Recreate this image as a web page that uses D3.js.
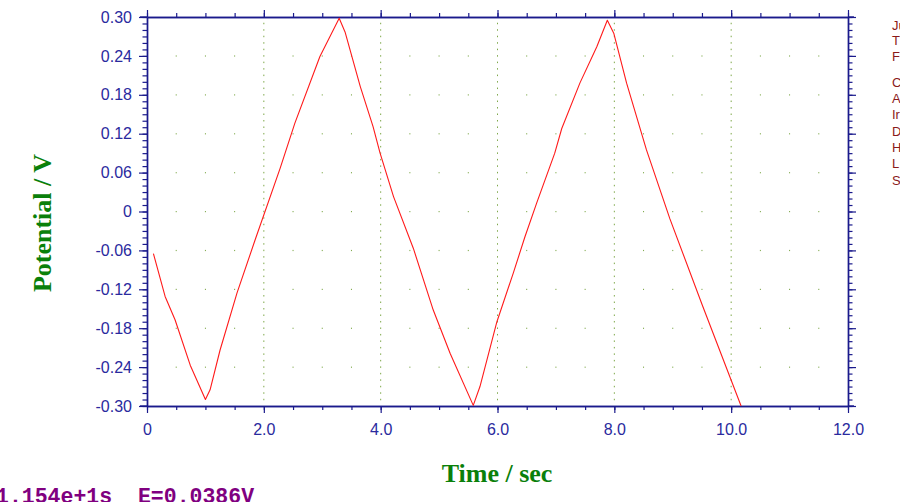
<!DOCTYPE html>
<html>
<head>
<meta charset="utf-8">
<script src="https://cdn.jsdelivr.net/npm/d3@7"></script>
<style>
  html, body { margin: 0; padding: 0; background: #ffffff; overflow: hidden; }
  svg { display: block; }
</style>
</head>
<body>
<svg id="chart" width="900" height="502"></svg>
<script>
// ---- data ----
const time = [0.11, 0.31, 0.48, 0.74, 1.00, 1.08, 1.25, 1.54, 1.85, 2.28, 2.53, 2.96, 3.29, 3.39, 3.65, 3.87, 3.99, 4.22, 4.56, 4.90, 5.19, 5.585, 5.70, 5.99, 6.27, 6.47, 6.67, 6.98, 7.10, 7.41, 7.70, 7.88, 7.99, 8.21, 8.55, 8.95, 9.50, 10.17];
const potential = [-0.065, -0.131, -0.167, -0.237, -0.290, -0.275, -0.214, -0.126, -0.044, 0.067, 0.136, 0.239, 0.298, 0.277, 0.193, 0.131, 0.090, 0.023, -0.057, -0.152, -0.219, -0.299, -0.270, -0.170, -0.095, -0.039, 0.013, 0.090, 0.128, 0.198, 0.254, 0.295, 0.275, 0.198, 0.095, -0.011, -0.143, -0.300];
const xTickValues = [0, 2, 4, 6, 8, 10, 12];
const xTickLabels = ["0", "2.0", "4.0", "6.0", "8.0", "10.0", "12.0"];
const yTickValues = [0.30, 0.24, 0.18, 0.12, 0.06, 0, -0.06, -0.12, -0.18, -0.24, -0.30];
const yTickLabels = ["0.30", "0.24", "0.18", "0.12", "0.06", "0", "-0.06", "-0.12", "-0.18", "-0.24", "-0.30"];
const sideLabels = ["Ju", "T", "F", "C", "A", "Ir", "D", "H", "L", "S"];
const statusText = "1.154e+1s  E=0.0386V";
const xTitle = "Time / sec";
const yTitle = "Potential / V";

// ---- layout ----
const svg = d3.select("#chart");
const x = d3.scaleLinear().domain([0, 12]).range([147, 848]);
const y = d3.scaleLinear().domain([-0.3, 0.3]).range([406, 17]);
const axisColor = "#1a1a8c";
const labelColor = "#2a2a9e";
const gridColor = "#7ea84a";

const xMinor = d3.range(0, 12.0001, 0.5).map(v => +v.toFixed(2));
const yMinor = d3.range(-30, 31, 1).map(v => v / 100);
const yMajorGrid = d3.range(-5, 6, 1).map(v => v * 0.06);

// grid: dotted vertical lines at major x
const gGrid = svg.append("g");
xTickValues.filter(v => v > 0 && v < 12).forEach(v => {
  gGrid.selectAll(null).data(yMinor.filter(e => e > -0.3 && e < 0.3)).enter()
    .append("rect")
    .attr("x", x(v) - 0.5).attr("y", d => y(d) - 0.75)
    .attr("width", 1).attr("height", 1.5)
    .attr("fill", gridColor);
});
// grid dots at intersections
const dotPts = [];
xMinor.filter(v => v > 0 && v < 12 && (v % 2 !== 0)).forEach(t => {
  yMajorGrid.filter(e => e > -0.29 && e < 0.29).forEach(e => dotPts.push([t, e]));
});
gGrid.selectAll(null).data(dotPts).enter().append("rect")
  .attr("x", d => x(d[0]) - 0.5).attr("y", d => y(d[1]) - 0.5)
  .attr("width", 1).attr("height", 1.2)
  .attr("fill", gridColor);

// ---- axes ----
function styleAxis(g) {
  g.selectAll("path.domain").attr("stroke", axisColor).attr("stroke-width", 1.4);
  g.selectAll(".tick line").attr("stroke", axisColor).attr("stroke-width", 1.2);
  g.selectAll(".tick text").attr("fill", labelColor)
    .style("font-family", "Arial, 'Liberation Sans', sans-serif").style("font-size", "16px");
}

// left
const gLeftMinor = svg.append("g").attr("transform", `translate(${x(0)},0)`)
  .call(d3.axisLeft(y).tickValues(yMinor).tickSize(4.5).tickSizeOuter(0).tickFormat(""));
styleAxis(gLeftMinor);
const gLeft = svg.append("g").attr("transform", `translate(${x(0)},0)`)
  .call(d3.axisLeft(y).tickValues(yTickValues).tickSize(8).tickSizeOuter(0).tickPadding(7)
    .tickFormat((d, i) => yTickLabels[i]));
styleAxis(gLeft);

// right
const gRightMinor = svg.append("g").attr("transform", `translate(${x(12)},0)`)
  .call(d3.axisRight(y).tickValues(yMinor).tickSize(4.5).tickSizeOuter(0).tickFormat(""));
styleAxis(gRightMinor);
const gRight = svg.append("g").attr("transform", `translate(${x(12)},0)`)
  .call(d3.axisRight(y).tickValues(yTickValues).tickSize(8).tickSizeOuter(0).tickFormat(""));
styleAxis(gRight);

// bottom
const gBottomMinor = svg.append("g").attr("transform", `translate(0,${y(-0.3)})`)
  .call(d3.axisBottom(x).tickValues(xMinor).tickSize(4).tickSizeOuter(0).tickFormat(""));
styleAxis(gBottomMinor);
const gBottom = svg.append("g").attr("transform", `translate(0,${y(-0.3)})`)
  .call(d3.axisBottom(x).tickValues(xTickValues).tickSize(7).tickSizeOuter(0).tickPadding(11)
    .tickFormat((d, i) => xTickLabels[i]));
styleAxis(gBottom);

// top
const gTopMinor = svg.append("g").attr("transform", `translate(0,${y(0.3)})`)
  .call(d3.axisTop(x).tickValues(xMinor).tickSize(4).tickSizeOuter(0).tickFormat(""));
styleAxis(gTopMinor);
const gTop = svg.append("g").attr("transform", `translate(0,${y(0.3)})`)
  .call(d3.axisTop(x).tickValues(xTickValues).tickSize(7).tickSizeOuter(0).tickFormat(""));
styleAxis(gTop);

// corner extensions of frame lines
const ext = svg.append("g").attr("stroke", axisColor).attr("stroke-width", 1.4);
ext.append("line").attr("x1", x(0) - 7).attr("x2", x(0)).attr("y1", y(0.3)).attr("y2", y(0.3));
ext.append("line").attr("x1", x(12)).attr("x2", x(12) + 6).attr("y1", y(0.3)).attr("y2", y(0.3));
ext.append("line").attr("x1", x(0) - 7).attr("x2", x(0)).attr("y1", y(-0.3)).attr("y2", y(-0.3));
ext.append("line").attr("x1", x(12)).attr("x2", x(12) + 6).attr("y1", y(-0.3)).attr("y2", y(-0.3));

// ---- line ----
const series = time.map((t, i) => [t, potential[i]]);
svg.append("path")
  .datum(series)
  .attr("fill", "none")
  .attr("stroke", "#ff1a1a")
  .attr("stroke-width", 1.1)
  .attr("stroke-linejoin", "round")
  .attr("d", d3.line().x(d => x(d[0])).y(d => y(d[1])));

// ---- titles ----
svg.append("text")
  .attr("x", 497).attr("y", 482)
  .attr("text-anchor", "middle")
  .attr("fill", "#0a800a")
  .style("font-family", "'Liberation Serif', 'Times New Roman', serif")
  .style("font-weight", "bold").style("font-size", "26px")
  .text(xTitle);

svg.append("text")
  .attr("transform", "translate(51,223) rotate(-90)")
  .attr("text-anchor", "middle")
  .attr("fill", "#0a800a")
  .style("font-family", "'Liberation Serif', 'Times New Roman', serif")
  .style("font-weight", "bold").style("font-size", "26px")
  .text(yTitle);

// ---- side info text ----
const sideY = [25, 40, 56, 82, 98, 114, 131, 147, 163, 180];
svg.append("g").selectAll("text").data(sideLabels).enter().append("text")
  .attr("x", 892).attr("y", (d, i) => sideY[i] + 5)
  .attr("fill", "#8b1a1a")
  .style("font-family", "Arial, 'Liberation Sans', sans-serif")
  .style("font-size", "13px")
  .text(d => d);

// ---- status text ----
svg.append("text")
  .attr("x", -4).attr("y", 503)
  .attr("fill", "#800080")
  .style("font-family", "'Liberation Mono', 'Courier New', monospace")
  .style("font-weight", "bold").style("font-size", "21.5px")
  .style("white-space", "pre")
  .attr("xml:space", "preserve")
  .text(statusText);
</script>
</body>
</html>
